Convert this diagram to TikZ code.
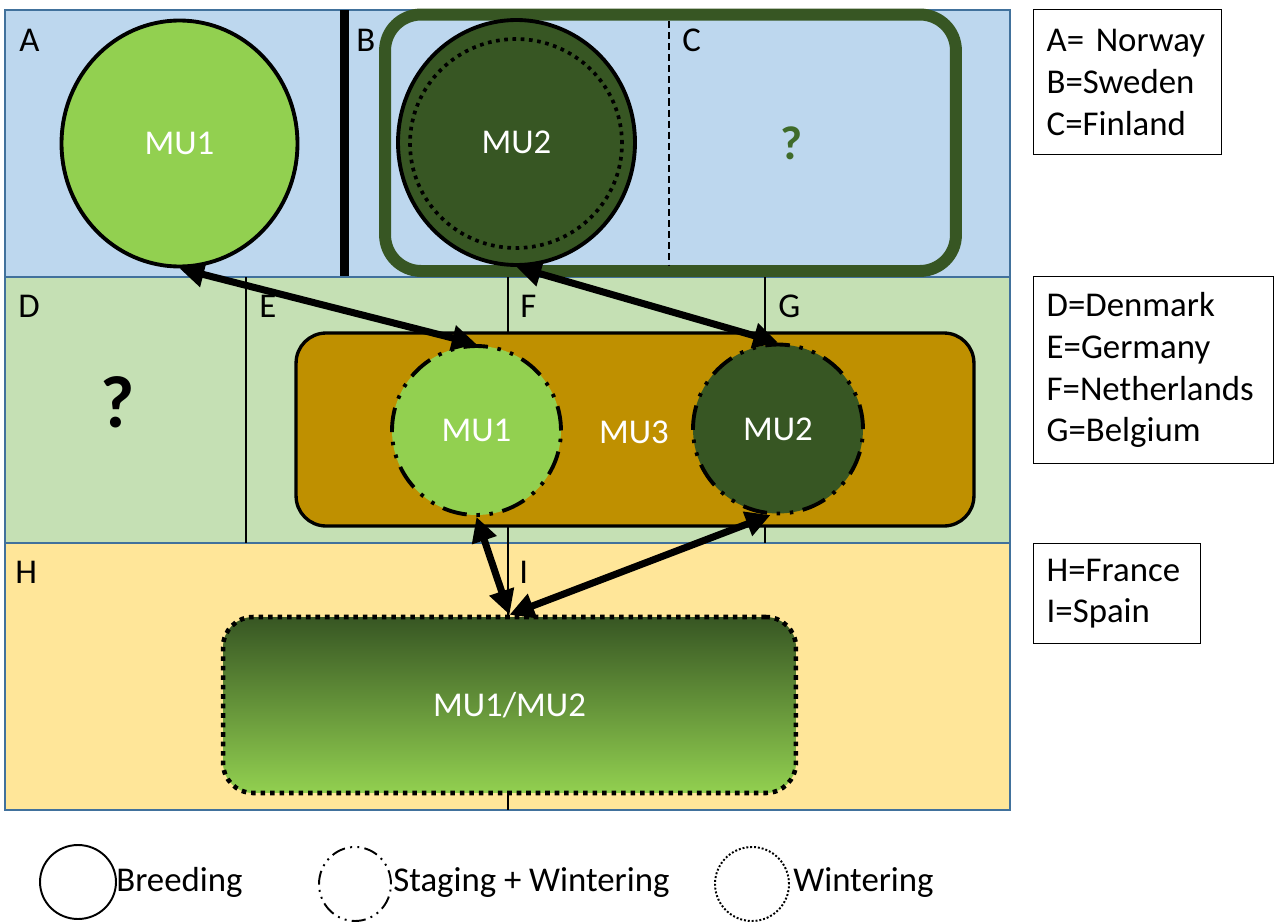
\documentclass[tikz,border=0pt]{standalone}
\usepackage{fontspec}
\setmainfont{Carlito}
\usetikzlibrary{arrows.meta,shapes.geometric}
\definecolor{bandblue}{HTML}{BDD7EE}
\definecolor{bandgreen}{HTML}{C5E0B4}
\definecolor{bandyellow}{HTML}{FFE699}
\definecolor{framec}{HTML}{41719C}
\definecolor{lightgreen}{HTML}{92D050}
\definecolor{darkgreen}{HTML}{375623}
\definecolor{mucolor}{HTML}{BF9000}
\definecolor{qgreen}{HTML}{3F6B2A}
\begin{document}
\begin{tikzpicture}[x=0.02cm,y=-0.02cm,
  every node/.style={font=\fontsize{19.8}{23.8}\selectfont},
  lab/.style={anchor=base west, inner sep=0pt},
  bigell/.style={ellipse, draw=black, line width=2.2pt, inner sep=0pt, text=white},
  stag/.style={ellipse, draw=black, line width=2.2pt, inner sep=0pt, text=white,
    dash pattern=on 14pt off 5.5pt on 2pt off 5.5pt on 2pt off 5.5pt},
  arr/.style={line width=4pt, {Triangle[length=14pt,width=14pt]}-{Triangle[length=14pt,width=14pt]}},
  legbox/.style={draw=black, line width=0.8pt, anchor=north west, align=left, inner xsep=0.26cm, inner ysep=0pt},
  thinline/.style={line width=0.6pt, black},
  band/.style={draw=framec, line width=0.7pt}
]
\useasboundingbox (0,0) rectangle (1275,923);

% bands
\path[band, fill=bandblue] (5,10) rectangle (1010,277);
\path[band, fill=bandgreen] (5,277) rectangle (1010,543);
\path[band, fill=bandyellow] (5,543) rectangle (1010,810);

% country borders
\draw[line width=5.5pt] (344.5,10) -- (344.5,276);
\draw[thinline] (246,277) -- (246,543);
\draw[thinline] (508,277) -- (508,543);
\draw[thinline] (765,277) -- (765,543);
\draw[thinline] (508,543) -- (508,810);

% region labels
\node[lab] (la) at (19,51) {A};
\node[lab] (lb) at (356,51) {B};
\node[lab] (lc) at (682,51) {C};
\node[lab] (ld) at (18,317) {D};
\node[lab] (le) at (259,317) {E};
\node[lab] (lf) at (520,317) {F};
\node[lab] (lg) at (778,317) {G};
\node[lab] (lh) at (15,583) {H};
\node[lab] (li) at (519,583) {I};

% top band
\node[draw=darkgreen, line width=6.8pt, rounded corners=0.72cm, minimum width=11.42cm, minimum height=5.13cm, inner sep=0pt] (fin) at (670.5,142.75) {};
\draw[line width=1pt, dash pattern=on 4pt off 2.3pt] (669,21) -- (669,265);
\node[font=\fontsize{27}{32}\selectfont\bfseries, text=qgreen] (qc) at (791,143) {?};
\node[bigell, fill=lightgreen, minimum width=4.72cm, minimum height=4.92cm] (mu1a) at (179.5,143.5) {MU1};
\node[bigell, fill=darkgreen, minimum width=4.74cm, minimum height=4.90cm] (mu2a) at (516.5,142.5) {MU2};
\node[ellipse, draw=black, line width=2.1pt, dash pattern=on 2.1pt off 2.6pt, minimum width=4.24cm, minimum height=4.18cm, inner sep=0pt] (mu2w) at (516,143.5) {};

% middle band
\node[font=\fontsize{42}{50}\selectfont\bfseries] (qd) at (118,402) {?};
\node[draw=black, line width=1.9pt, fill=mucolor, rounded corners=0.6cm, minimum width=13.56cm, minimum height=3.86cm, inner sep=0pt] (mu3) at (635,429.5) {};
\node[text=white] (mu3t) at (634,432) {MU3};
\node[stag, fill=lightgreen, minimum width=3.38cm, minimum height=3.38cm] (mu1b) at (476.5,430.5) {MU1};
\node[stag, fill=darkgreen, minimum width=3.4cm, minimum height=3.38cm] (mu2b) at (778,429) {MU2};

% bottom band
\node[draw=black, line width=2.6pt, dash pattern=on 2.6pt off 2.8pt, rounded corners=0.6cm,
  top color=darkgreen, bottom color=lightgreen, text=white,
  minimum width=11.46cm, minimum height=3.52cm, inner sep=0pt] (mub) at (509.5,705) {MU1/MU2};

% arrows
\draw[arr] (mu1a.south) -- (mu1b.north);
\draw[arr] (mu2a.south) -- (mu2b.north);
\draw[arr] (mu1b.south) -- (mub.north);
\draw[arr] (mu2b.-95) -- (mub.north);

% keys
\node[legbox, minimum height=2.9cm, text width=3.24cm] (k1) at (1033,9) {A= Norway\\B=Sweden\\C=Finland};
\node[legbox, minimum height=3.74cm, text width=4.28cm] (k2) at (1033,276) {D=Denmark\\E=Germany\\F=Netherlands\\G=Belgium};
\node[legbox, minimum height=2.0cm, text width=2.82cm] (k3) at (1033,543) {H=France\\I=Spain};

% legend
\node[ellipse, draw=black, line width=1.1pt, minimum width=1.52cm, minimum height=1.48cm, inner sep=0pt] (lgb) at (78,882) {};
\node[lab] (lgbt) at (116,891) {Breeding};
\node[ellipse, draw=black, line width=1.1pt, dash pattern=on 8pt off 3pt on 1.1pt off 3pt on 1.1pt off 3pt, minimum width=1.44cm, minimum height=1.48cm, inner sep=0pt] (lgs) at (355,884) {};
\node[lab] (lgst) at (393,891) {Staging + Wintering};
\node[ellipse, draw=black, line width=1.1pt, dash pattern=on 1.1pt off 1.1pt, minimum width=1.48cm, minimum height=1.48cm, inner sep=0pt] (lgw) at (752,884) {};
\node[lab] (lgwt) at (793,891) {Wintering};
\end{tikzpicture}
\end{document}
